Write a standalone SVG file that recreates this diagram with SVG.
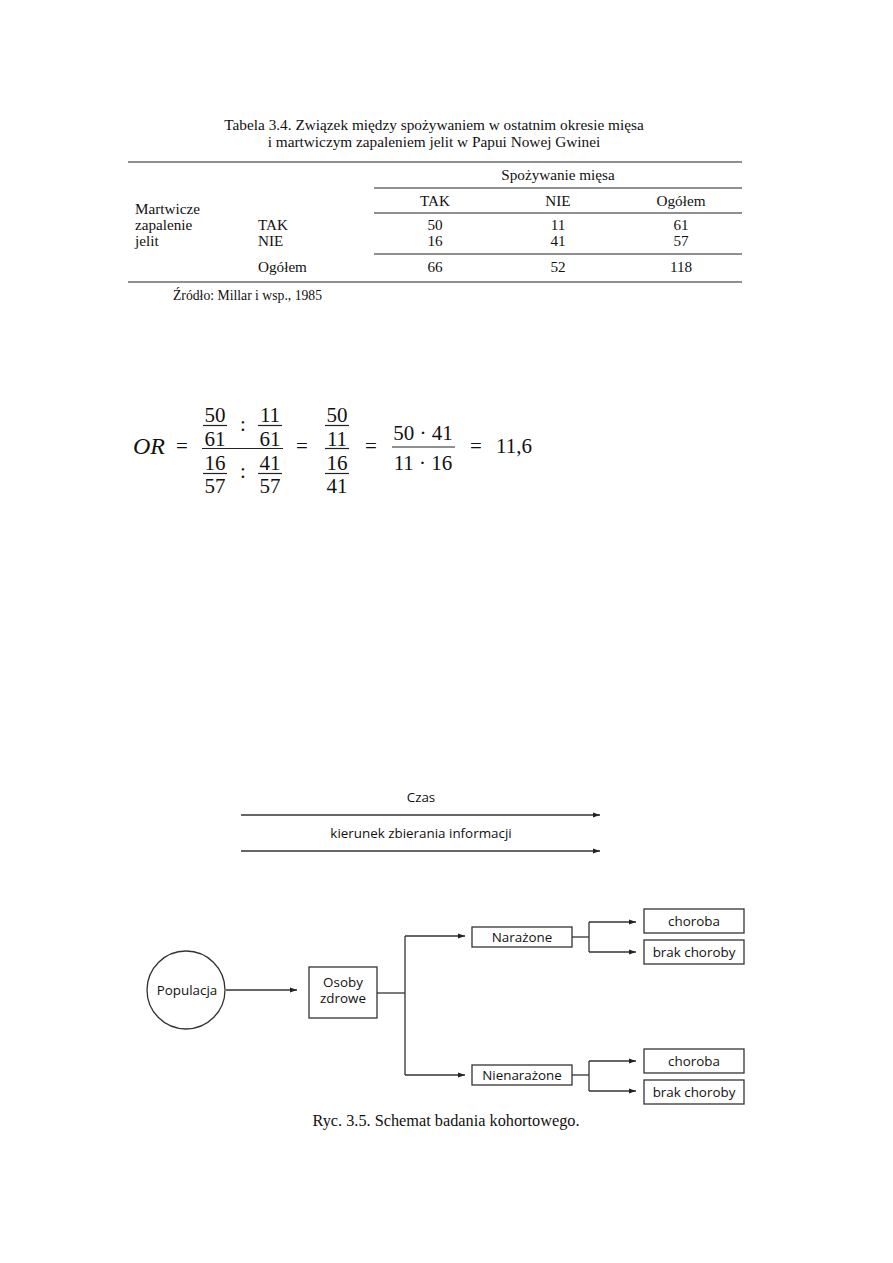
<svg xmlns="http://www.w3.org/2000/svg" width="893" height="1263" viewBox="0 0 893 1263">
<style>
.s{font-family:"Liberation Serif","Times New Roman",serif;fill:#111}
.t{font-size:15.2px}
.m{font-size:21px}
.f{font-family:"Open Sans","Noto Sans","DejaVu Sans",sans-serif;font-size:13.4px;fill:#111}
.rule{stroke:#222;stroke-width:1.2}
.ln{stroke:#333;stroke-width:1.3;fill:none}
.bx{fill:#fff;stroke:#333;stroke-width:1.3}
.fr{stroke:#222;stroke-width:1.2}
</style>
<defs>
<marker id="ah" markerWidth="8" markerHeight="6" refX="7" refY="3" orient="auto" markerUnits="userSpaceOnUse">
<path d="M0,0.5 L7,3 L0,5.5 Z" fill="#222"/>
</marker>
</defs>
<rect width="893" height="1263" fill="#fff"/>

<g id="table">
<text class="s" x="434" y="130" font-size="15.3" text-anchor="middle">Tabela 3.4. Związek między spożywaniem w ostatnim okresie mięsa</text>
<text class="s" x="434" y="147" font-size="15.3" text-anchor="middle">i martwiczym zapaleniem jelit w Papui Nowej Gwinei</text>
<line class="rule" x1="128" y1="162" x2="742" y2="162"/>
<line class="rule" x1="374" y1="188" x2="742" y2="188"/>
<line class="rule" x1="374" y1="213" x2="742" y2="213"/>
<line class="rule" x1="374" y1="254" x2="742" y2="254"/>
<line class="rule" x1="128" y1="282" x2="742" y2="282"/>
<text class="s t" x="558" y="180" text-anchor="middle">Spożywanie mięsa</text>
<text class="s t" x="435" y="206" text-anchor="middle">TAK</text>
<text class="s t" x="558" y="206" text-anchor="middle">NIE</text>
<text class="s t" x="681" y="206" text-anchor="middle">Ogółem</text>
<text class="s t" x="135" y="214">Martwicze</text>
<text class="s t" x="135" y="230">zapalenie</text>
<text class="s t" x="135" y="246">jelit</text>
<text class="s t" x="258" y="230">TAK</text>
<text class="s t" x="258" y="246">NIE</text>
<text class="s t" x="258" y="272">Ogółem</text>
<text class="s t" x="435" y="230" text-anchor="middle">50</text>
<text class="s t" x="558" y="230" text-anchor="middle">11</text>
<text class="s t" x="681" y="230" text-anchor="middle">61</text>
<text class="s t" x="435" y="246" text-anchor="middle">16</text>
<text class="s t" x="558" y="246" text-anchor="middle">41</text>
<text class="s t" x="681" y="246" text-anchor="middle">57</text>
<text class="s t" x="435" y="272" text-anchor="middle">66</text>
<text class="s t" x="558" y="272" text-anchor="middle">52</text>
<text class="s t" x="681" y="272" text-anchor="middle">118</text>
<text class="s" x="173" y="300" font-size="13.7">Źródło: Millar i wsp., 1985</text>
</g>

<g id="formula">
<text class="s" x="133" y="454" font-size="24" font-style="italic">OR</text>
<text class="s m" x="182" y="453" text-anchor="middle">=</text>
<text class="s m" x="215" y="421.5" text-anchor="middle">50</text>
<line class="fr" x1="203" y1="425.5" x2="227" y2="425.5"/>
<text class="s m" x="215" y="446" text-anchor="middle">61</text>
<text class="s m" x="243" y="431" text-anchor="middle">:</text>
<text class="s m" x="270" y="421.5" text-anchor="middle">11</text>
<line class="fr" x1="258" y1="425.5" x2="282" y2="425.5"/>
<text class="s m" x="270" y="446" text-anchor="middle">61</text>
<line class="fr" x1="202" y1="448.5" x2="283" y2="448.5"/>
<text class="s m" x="215" y="469.5" text-anchor="middle">16</text>
<line class="fr" x1="203" y1="473.5" x2="227" y2="473.5"/>
<text class="s m" x="215" y="493" text-anchor="middle">57</text>
<text class="s m" x="243" y="478" text-anchor="middle">:</text>
<text class="s m" x="270" y="469.5" text-anchor="middle">41</text>
<line class="fr" x1="258" y1="473.5" x2="282" y2="473.5"/>
<text class="s m" x="270" y="493" text-anchor="middle">57</text>
<text class="s m" x="302" y="453" text-anchor="middle">=</text>
<text class="s m" x="337" y="421.5" text-anchor="middle">50</text>
<line class="fr" x1="325" y1="425.5" x2="349" y2="425.5"/>
<text class="s m" x="337" y="446" text-anchor="middle">11</text>
<line class="fr" x1="325" y1="448.5" x2="349" y2="448.5"/>
<text class="s m" x="337" y="469.5" text-anchor="middle">16</text>
<line class="fr" x1="325" y1="473.5" x2="349" y2="473.5"/>
<text class="s m" x="337" y="493" text-anchor="middle">41</text>
<text class="s m" x="371" y="453" text-anchor="middle">=</text>
<text class="s m" x="423" y="440" text-anchor="middle">50 · 41</text>
<line class="fr" x1="392" y1="447" x2="455" y2="447"/>
<text class="s m" x="423" y="470" text-anchor="middle">11 · 16</text>
<text class="s m" x="476" y="453" text-anchor="middle">=</text>
<text class="s m" x="496" y="453">11,6</text>
</g>

<g id="connectors">
<line class="ln" x1="241" y1="815" x2="600" y2="815" marker-end="url(#ah)"/>
<line class="ln" x1="241" y1="851" x2="600" y2="851" marker-end="url(#ah)"/>
<line class="ln" x1="226" y1="990" x2="297" y2="990" marker-end="url(#ah)"/>
<polyline class="ln" points="377,993 405,993"/>
<polyline class="ln" points="405,936 405,1075"/>
<line class="ln" x1="405" y1="936" x2="465" y2="936" marker-end="url(#ah)"/>
<line class="ln" x1="405" y1="1075" x2="465" y2="1075" marker-end="url(#ah)"/>
<polyline class="ln" points="572,937 589,937"/>
<polyline class="ln" points="589,922 589,952"/>
<line class="ln" x1="589" y1="922" x2="636" y2="922" marker-end="url(#ah)"/>
<line class="ln" x1="589" y1="952" x2="636" y2="952" marker-end="url(#ah)"/>
<polyline class="ln" points="572,1075 589,1075"/>
<polyline class="ln" points="589,1061 589,1091"/>
<line class="ln" x1="589" y1="1061" x2="636" y2="1061" marker-end="url(#ah)"/>
<line class="ln" x1="589" y1="1091" x2="636" y2="1091" marker-end="url(#ah)"/>
</g>

<g id="labels">
<text class="f" x="421" y="802" text-anchor="middle">Czas</text>
<text class="f" x="421" y="838" text-anchor="middle">kierunek zbierania informacji</text>
</g>

<g id="populacja">
<circle class="bx" cx="186" cy="990" r="39"/>
<text class="f" x="187" y="995" text-anchor="middle">Populacja</text>
</g>
<g id="osoby">
<rect class="bx" x="309" y="967" width="68" height="51"/>
<text class="f" x="343" y="987" text-anchor="middle">Osoby</text>
<text class="f" x="343" y="1003" text-anchor="middle">zdrowe</text>
</g>
<g id="narazone">
<rect class="bx" x="472" y="927" width="100" height="20"/>
<text class="f" x="522" y="942" text-anchor="middle">Narażone</text>
</g>
<g id="choroba1">
<rect class="bx" x="644" y="909" width="100" height="24"/>
<text class="f" x="694" y="926" text-anchor="middle">choroba</text>
</g>
<g id="brak1">
<rect class="bx" x="644" y="940" width="100" height="24"/>
<text class="f" x="694" y="957" text-anchor="middle">brak choroby</text>
</g>
<g id="nienarazone">
<rect class="bx" x="472" y="1065" width="100" height="20"/>
<text class="f" x="522" y="1080" text-anchor="middle">Nienarażone</text>
</g>
<g id="choroba2">
<rect class="bx" x="644" y="1049" width="100" height="24"/>
<text class="f" x="694" y="1066" text-anchor="middle">choroba</text>
</g>
<g id="brak2">
<rect class="bx" x="644" y="1080" width="100" height="24"/>
<text class="f" x="694" y="1097" text-anchor="middle">brak choroby</text>
</g>

<g id="caption">
<text class="s" x="446" y="1126" font-size="16.3" fill="#000" text-anchor="middle">Ryc. 3.5. Schemat badania kohortowego.</text>
</g>
</svg>
